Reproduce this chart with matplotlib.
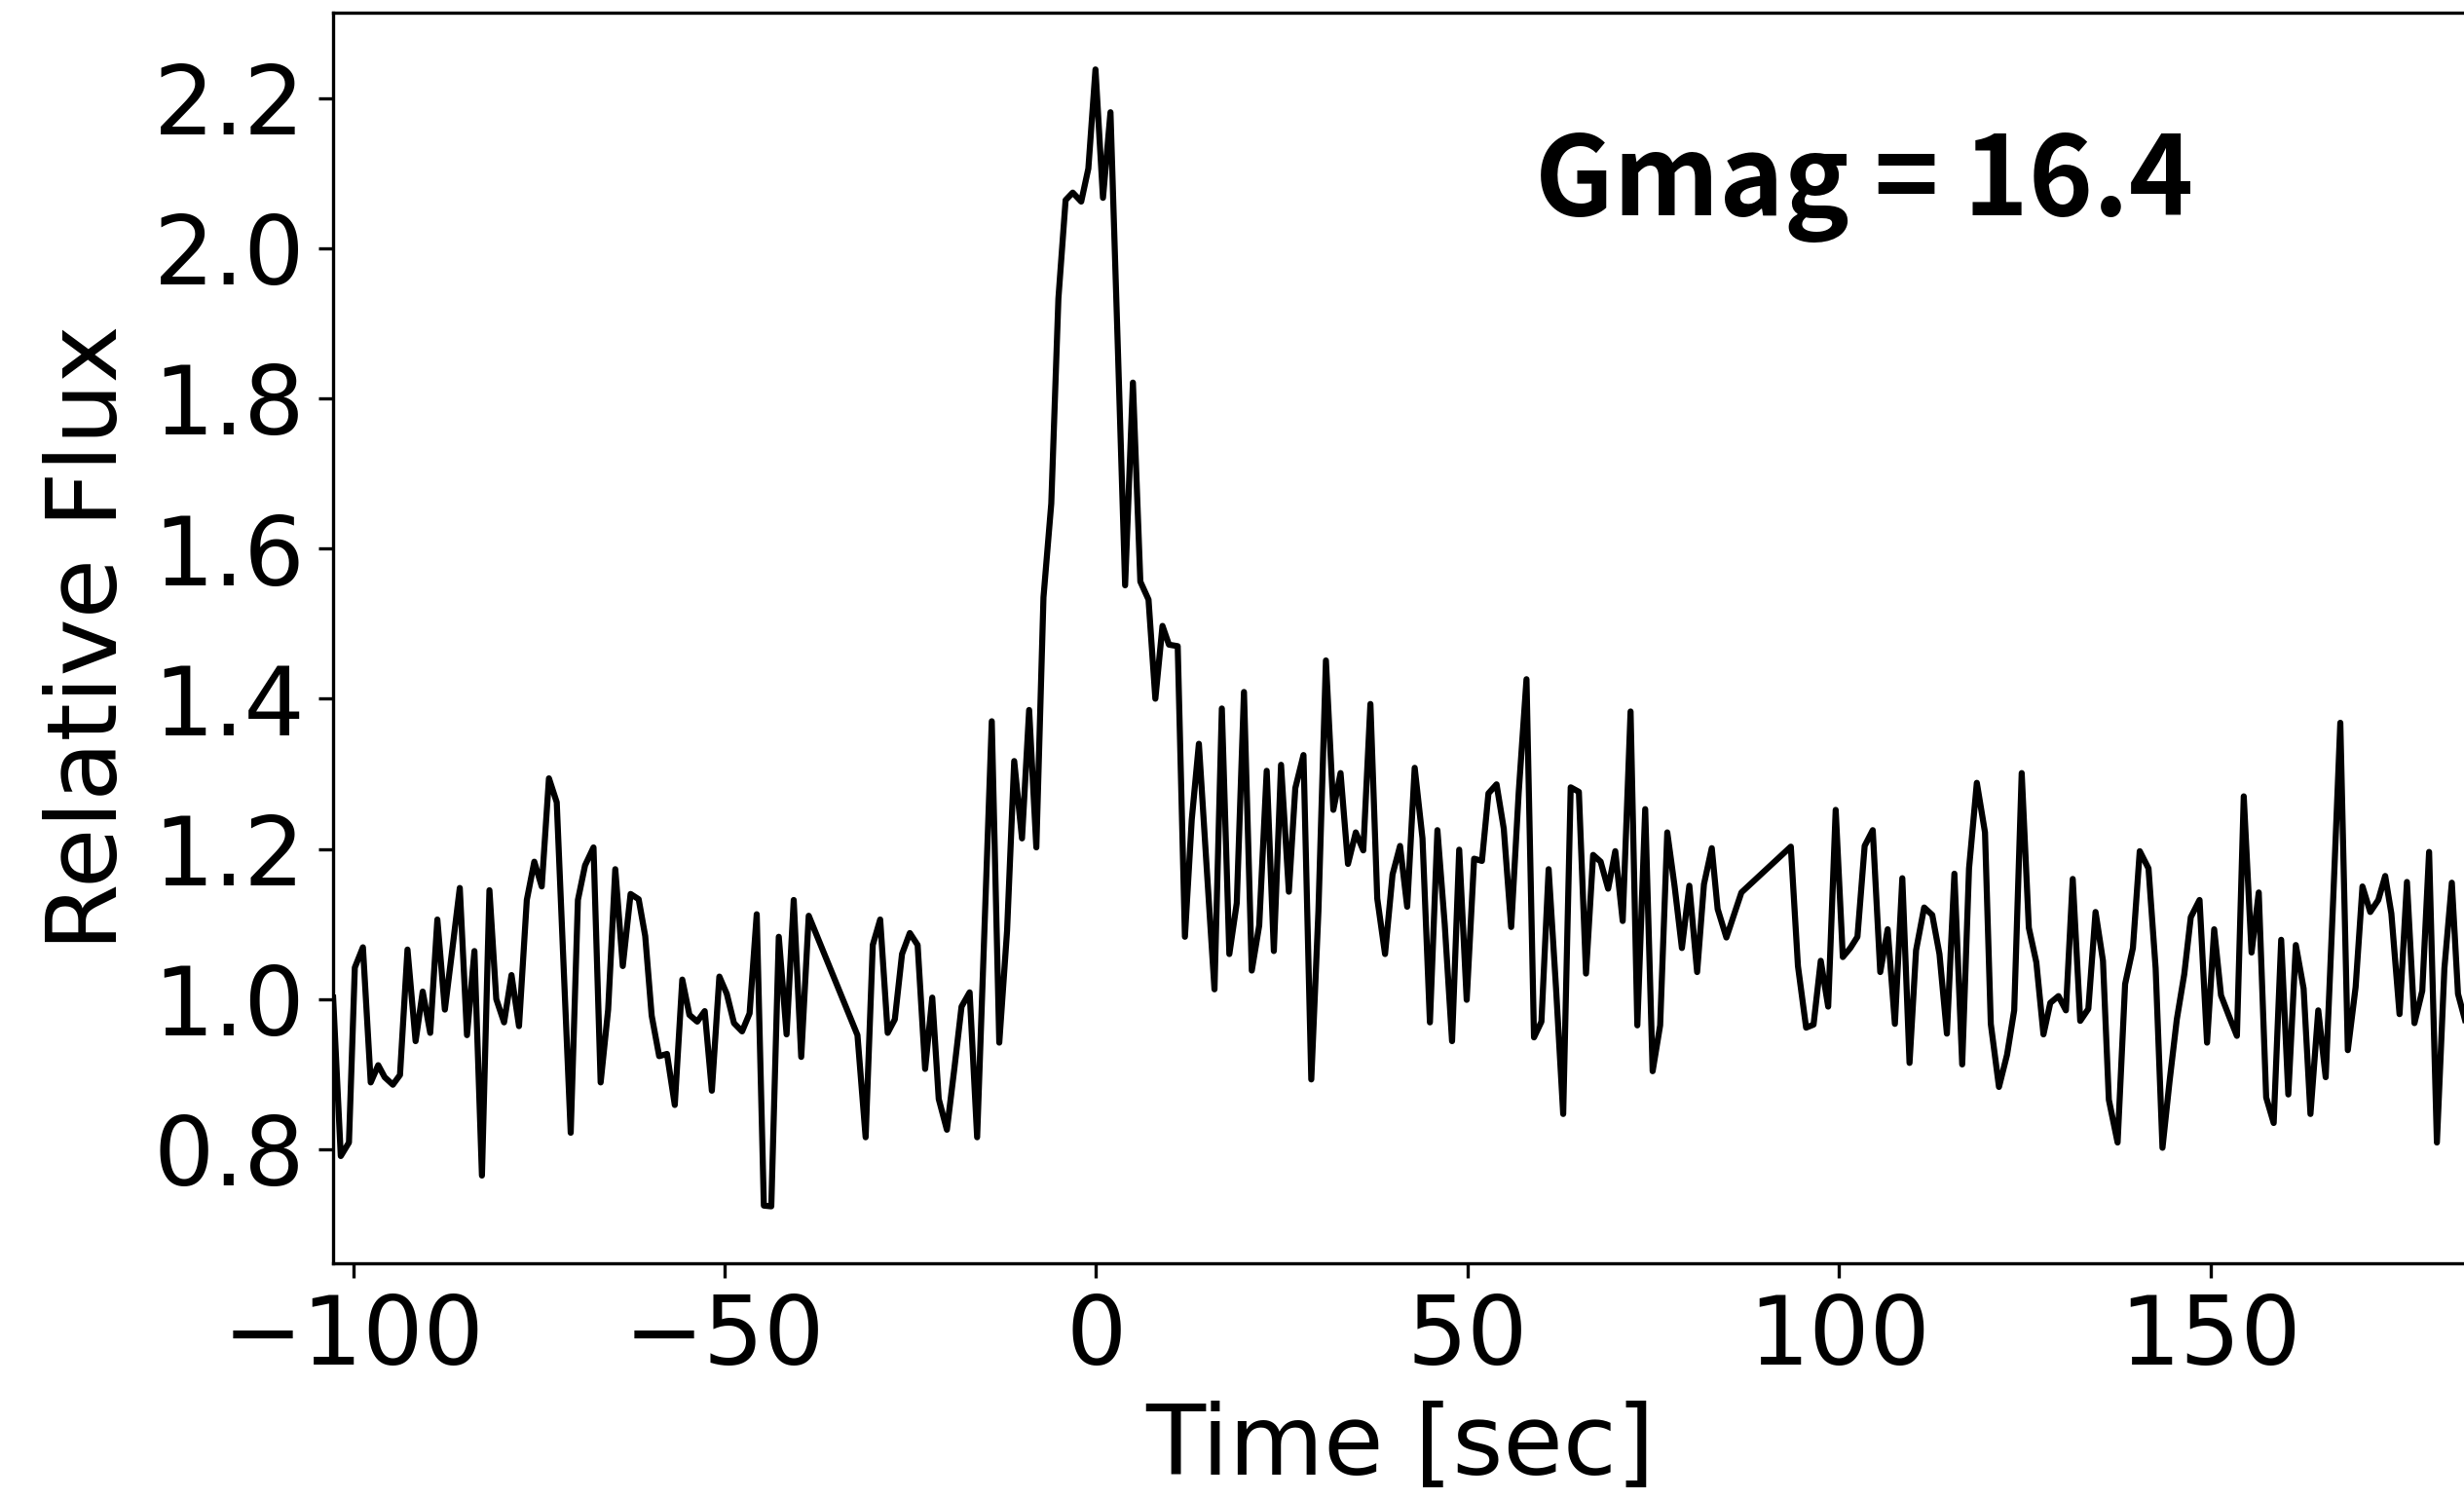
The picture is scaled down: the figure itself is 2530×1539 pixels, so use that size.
import matplotlib.pyplot as plt
from matplotlib.ticker import MultipleLocator

plt.rcParams["font.family"] = "DejaVu Sans"

# light curve (time from peak in sec, relative flux)
time_sec = [
    -102.7, -101.67, -100.57, -99.78, -98.69, -97.64, -96.63, -95.76, -94.66, -93.70,
    -92.69, -91.60, -90.64, -89.63, -88.67, -87.66, -86.66, -85.65, -84.68, -83.68,
    -82.67, -81.66, -80.74, -79.69, -78.69, -77.68, -76.63, -75.62, -74.62, -73.65,
    -72.6, -71.66, -70.72, -69.75, -68.79, -67.65, -66.69, -65.68, -64.72, -63.71,
    -62.66, -61.57, -60.69, -59.82, -58.81, -57.76, -56.71, -55.70, -54.74, -53.69,
    -52.68, -51.72, -50.71, -49.71, -48.74, -47.65, -46.64, -45.68, -44.72, -43.72,
    -42.71, -41.66, -40.70, -39.69, -38.68, -32.12, -31.02, -30.06, -29.06, -28.05,
    -27.09, -26.12, -25.07, -24.02, -23.01, -22.05, -21.18, -20.08, -19.07, -18.11,
    -17.02, -16.01, -15.03, -14.04, -13.03, -11.98, -11.02, -9.97, -9.01, -8.04,
    -7.08, -6.03, -5.07, -4.10, -3.14, -2.00, -1.04, -0.08, 0.93, 1.94,
    2.94, 3.91, 4.96, 5.96, 7.06, 7.98, 8.94, 9.81, 10.99, 11.96,
    12.88, 13.84, 14.89, 15.94, 16.93, 17.94, 18.94, 19.91, 20.96, 21.96,
    22.97, 23.93, 24.90, 25.95, 26.82, 27.92, 28.97, 29.93, 30.94, 31.94,
    32.91, 33.91, 34.96, 35.97, 36.93, 37.85, 38.90, 39.91, 40.92, 41.88,
    42.89, 43.94, 44.94, 45.95, 46.93, 47.92, 48.88, 49.89, 50.89, 51.94,
    52.82, 53.91, 54.88, 55.88, 56.89, 57.94, 58.95, 59.95, 60.92, 61.92,
    62.88, 63.89, 64.99, 65.95, 66.91, 67.92, 68.93, 69.89, 70.89, 71.95,
    72.86, 73.92, 74.92, 75.93, 76.89, 77.88, 78.86, 79.86, 80.91, 81.83,
    82.88, 83.67, 84.85, 86.87, 93.52, 94.48, 95.58, 96.58, 97.55, 98.55,
    99.56, 100.52, 101.53, 102.49, 103.46, 104.55, 105.56, 106.56, 107.53, 108.53,
    109.50, 110.38, 111.47, 112.56, 113.53, 114.53, 115.54, 116.59, 117.51, 118.56,
    119.66, 120.44, 121.54, 122.63, 123.59, 124.60, 125.56, 126.57, 127.53, 128.45,
    129.55, 130.55, 131.47, 132.48, 133.57, 134.54, 135.54, 136.33, 137.51, 138.52,
    139.57, 140.49, 141.67, 142.63, 143.55, 144.51, 145.48, 146.48, 147.36, 148.54,
    149.55, 150.51, 151.43, 152.52, 153.57, 154.49, 155.54, 156.51, 157.51, 158.52,
    159.53, 160.49, 161.50, 162.55, 163.47, 164.52, 165.52, 166.53, 167.49, 168.50,
    169.55, 170.47, 171.52, 172.6, 173.53, 174.36, 175.46, 176.46, 177.47, 178.52,
    179.44, 180.49, 181.50, 182.50, 183.33, 184.47,
]

rel_flux = [
    1.002, 0.791, 0.809, 1.042, 1.069, 0.889, 0.912, 0.896, 0.886, 0.899,
    1.066, 0.944, 1.010, 0.955, 1.106, 0.986, 1.066, 1.148, 0.952, 1.064,
    0.765, 1.145, 1.000, 0.969, 1.032, 0.964, 1.132, 1.183, 1.150, 1.294,
    1.262, 1.040, 0.822, 1.132, 1.178, 1.202, 0.889, 0.986, 1.173, 1.044,
    1.140, 1.133, 1.084, 0.978, 0.924, 0.927, 0.859, 1.026, 0.979, 0.970,
    0.984, 0.878, 1.030, 1.007, 0.968, 0.957, 0.981, 1.113, 0.725, 0.724,
    1.083, 0.953, 1.132, 0.923, 1.111, 0.952, 0.816, 1.072, 1.106, 0.955,
    0.973, 1.060, 1.088, 1.072, 0.907, 1.002, 0.867, 0.826, 0.908, 0.990,
    1.009, 0.816, 1.090, 1.370, 0.942, 1.091, 1.317, 1.214, 1.385, 1.202,
    1.535, 1.660, 1.933, 2.064, 2.074, 2.062, 2.106, 2.238, 2.067, 2.181,
    1.864, 1.551, 1.821, 1.556, 1.532, 1.400, 1.497, 1.472, 1.470, 1.083,
    1.239, 1.340, 1.175, 1.013, 1.387, 1.060, 1.128, 1.409, 1.038, 1.098,
    1.304, 1.064, 1.312, 1.143, 1.281, 1.325, 0.893, 1.117, 1.451, 1.252,
    1.301, 1.180, 1.222, 1.198, 1.393, 1.134, 1.060, 1.166, 1.204, 1.123,
    1.308, 1.214, 0.969, 1.225, 1.100, 0.944, 1.199, 0.999, 1.187, 1.184,
    1.274, 1.286, 1.227, 1.096, 1.275, 1.426, 0.949, 0.970, 1.173, 1.014,
    0.847, 1.282, 1.276, 1.034, 1.192, 1.183, 1.147, 1.197, 1.104, 1.383,
    0.965, 1.253, 0.904, 0.965, 1.222, 1.150, 1.068, 1.151, 1.036, 1.153,
    1.201, 1.120, 1.082, 1.142, 1.203, 1.044, 0.962, 0.966, 1.051, 0.990,
    1.252, 1.056, 1.068, 1.083, 1.204, 1.225, 1.036, 1.093, 0.967, 1.161,
    0.915, 1.065, 1.122, 1.112, 1.060, 0.954, 1.167, 0.913, 1.174, 1.288,
    1.222, 0.967, 0.883, 0.926, 0.985, 1.301, 1.095, 1.049, 0.953, 0.995,
    1.004, 0.985, 1.160, 0.971, 0.987, 1.116, 1.051, 0.866, 0.809, 1.020,
    1.068, 1.197, 1.174, 1.041, 0.802, 0.891, 0.973, 1.033, 1.109, 1.132,
    0.942, 1.093, 1.005, 0.977, 0.951, 1.270, 1.062, 1.142, 0.869, 0.835,
    1.079, 0.873, 1.072, 1.014, 0.847, 0.985, 0.896, 1.133, 1.368, 0.932,
    1.016, 1.150, 1.116, 1.132, 1.164, 1.114, 0.980, 1.156, 0.968, 1.011,
    1.196, 0.809, 1.041, 1.155, 1.007, 0.965,
]

gmag_label = "Gmag = 16.4"

fig = plt.figure(figsize=(2530 / 300, 1539 / 300), dpi=300)
ax = fig.add_axes([0.1352, 0.1573, 0.8658, 0.8343])

ax.plot(time_sec, rel_flux, color="black", lw=1.5)
ax.set_xlim(min(time_sec), max(time_sec))
ax.yaxis.set_major_locator(MultipleLocator(0.2))

ax.set_xlabel("Time [sec]", fontsize=24)
ax.set_ylabel("Relative Flux", fontsize=24)
ax.tick_params(labelsize=23.5)

ax.text(0.7175, 0.838, gmag_label, transform=ax.transAxes,
        ha="center", va="baseline", fontsize=27, fontweight="bold",
        family=["Noto Sans CJK JP", "DejaVu Sans"])

fig.savefig("out.png", dpi=300)
